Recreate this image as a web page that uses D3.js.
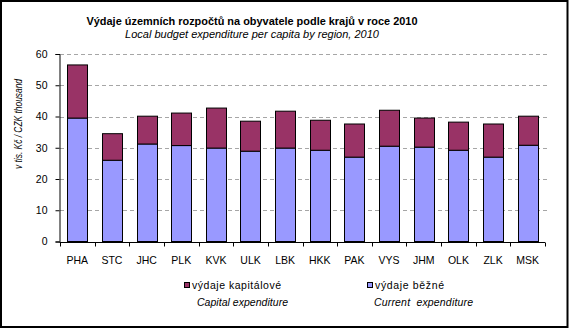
<!DOCTYPE html>
<html><head><meta charset="utf-8">
<script src="https://cdn.jsdelivr.net/npm/d3@7"></script>
<style>body{margin:0;background:#fff}svg{display:block;font-family:"Liberation Sans",Arial,sans-serif}</style>
</head><body>
<script>
const categories = ["PHA","STC","JHC","PLK","KVK","ULK","LBK","HKK","PAK","VYS","JHM","OLK","ZLK","MSK"];
const currentExp = [39.5,26.0,31.2,30.7,29.9,28.9,29.9,29.2,27.0,30.5,30.2,29.2,27.0,30.8];
const capitalExp = [17.0,8.5,8.9,10.4,12.8,9.6,11.8,9.6,10.6,11.5,9.3,9.0,10.6,9.3];
const yTicks = [0,10,20,30,40,50,60];

const W = 569, H = 329;
const svg = d3.select("body").append("svg").attr("width", W).attr("height", H);
svg.append("rect").attr("x",1).attr("y",1).attr("width",566.5).attr("height",326)
  .attr("fill","#fff").attr("stroke","#000").attr("stroke-width",2);

const x0 = 60, x1 = 545, yTop = 54, yBot = 241.5;
const x = d3.scaleBand().domain(categories).range([x0, x1]).paddingInner(0.42).paddingOuter(0.21);
const y = d3.scaleLinear().domain([0, 60]).range([yBot, yTop]);

// gridlines
svg.append("g").selectAll("line").data(yTicks.filter(d=>d>0)).join("line")
  .attr("x1", x0).attr("x2", x1+2).attr("y1", d=>Math.round(y(d))+0.5).attr("y2", d=>Math.round(y(d))+0.5)
  .attr("stroke","#a6a6a6").attr("stroke-dasharray","4,3").attr("stroke-width",1);

// bars
const data = categories.map((c,i)=>({c, cur: currentExp[i], cap: capitalExp[i]}));
const g = svg.append("g");
g.selectAll("rect.cur").data(data).join("rect")
  .attr("x", d=>Math.round(x(d.c))+0.5).attr("width", Math.round(x.bandwidth()))
  .attr("y", d=>y(d.cur)).attr("height", d=>y(0)-y(d.cur))
  .attr("fill","#9999ff").attr("stroke","#000").attr("stroke-width",1);
g.selectAll("rect.cap").data(data).join("rect")
  .attr("x", d=>Math.round(x(d.c))+0.5).attr("width", Math.round(x.bandwidth()))
  .attr("y", d=>y(d.cur+d.cap)).attr("height", d=>y(d.cur)-y(d.cur+d.cap))
  .attr("fill","#993366").attr("stroke","#000").attr("stroke-width",1);

// y axis
const yAxis = d3.axisLeft(y).tickValues(yTicks).tickSize(4).tickPadding(8).tickFormat(d3.format("d"));
const ya = svg.append("g").attr("transform",`translate(${x0-0.5},0)`).call(yAxis);
ya.select(".domain").attr("stroke","#000");
ya.selectAll("text").attr("font-size","10.5px").attr("fill","#000").attr("font-family","Liberation Sans, Arial");

// x axis
const xa = svg.append("g").attr("transform",`translate(0,${Math.round(yBot)+0.5})`);
xa.append("line").attr("x1",x0-0.5).attr("x2",x1).attr("stroke","#000");
const step = x.step();
xa.selectAll("line.tk").data(d3.range(categories.length+1)).join("line")
  .attr("x1", i=>Math.round(x0 + i*step)+0.5).attr("x2", i=>Math.round(x0 + i*step)+0.5)
  .attr("y1",0).attr("y2",4).attr("stroke","#000");
xa.selectAll("text").data(categories).join("text")
  .attr("x", d=>x(d)+x.bandwidth()/2).attr("y", 21).attr("text-anchor","middle")
  .attr("font-size","10.5px").text(d=>d);

// titles
svg.append("text").attr("x",252).attr("y",25).attr("text-anchor","middle")
  .attr("font-size","11.5px").attr("font-weight","bold")
  .attr("textLength",331).attr("lengthAdjust","spacingAndGlyphs")
  .text("Výdaje územních rozpočtů na obyvatele podle krajů v roce 2010");
svg.append("text").attr("x",252).attr("y",38).attr("text-anchor","middle")
  .attr("font-size","11px").attr("font-style","italic").text("Local budget expenditure per capita by region, 2010");

// y label
svg.append("text").attr("transform","translate(22,124) rotate(-90)").attr("text-anchor","middle")
  .attr("font-size","10px").attr("font-style","italic")
  .attr("textLength",90).attr("lengthAdjust","spacingAndGlyphs")
  .text("v tis. Kč / CZK thousand");

// legend
const legend = [
  {label:"výdaje kapitálové", sub:"Capital expenditure", color:"#993366", x:184, sx:197, lw:89, sw:91},
  {label:"výdaje běžné", sub:"Current  expenditure", color:"#9999ff", x:367, sx:374, lw:69, sw:99}
];
const lg = svg.append("g").selectAll("g").data(legend).join("g");
lg.append("rect").attr("x",d=>d.x+0.5).attr("y",282.5).attr("width",5).attr("height",5)
  .attr("fill",d=>d.color).attr("stroke","#000").attr("stroke-width",1);
lg.append("text").attr("x",d=>d.x+8).attr("y",289).attr("font-size","10.5px")
  .attr("textLength",d=>d.lw).attr("lengthAdjust","spacing").text(d=>d.label);
lg.append("text").attr("x",d=>d.sx).attr("y",306).attr("font-size","10.5px").attr("font-style","italic")
  .attr("textLength",d=>d.sw).attr("lengthAdjust","spacing")
  .style("white-space","pre").text(d=>d.sub);
</script>
</body></html>
